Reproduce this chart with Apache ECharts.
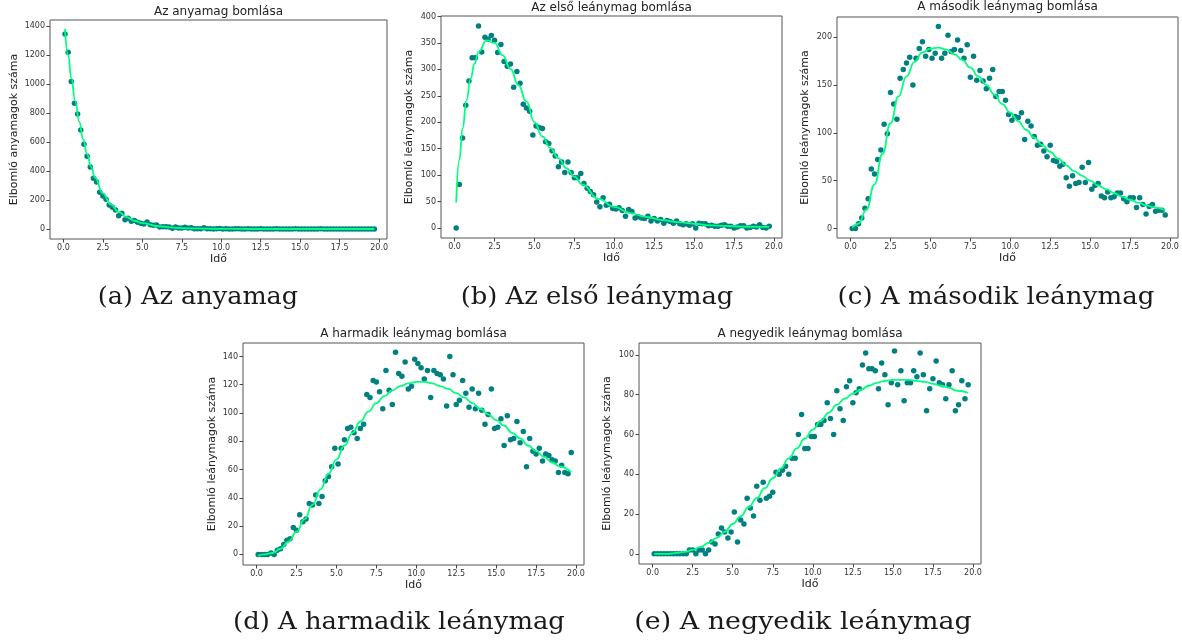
<!DOCTYPE html>
<html>
<head>
<meta charset="utf-8">
<script src="https://cdn.jsdelivr.net/npm/echarts@6/dist/echarts.min.js"></script>
<style>
  html, body { margin: 0; padding: 0; background: #fff; }
  #decay_charts { width: 1182px; height: 644px; }
</style>
</head>
<body>
<div id="decay_charts"></div>
<script>
// mérési időpontok
const times = [0.1, 0.3, 0.5, 0.7, 0.9, 1.1, 1.3, 1.5, 1.7, 1.9,
  2.1, 2.3, 2.5, 2.7, 2.9, 3.1, 3.3, 3.5, 3.7, 3.9,
  4.1, 4.3, 4.5, 4.7, 4.9, 5.1, 5.3, 5.5, 5.7, 5.9,
  6.1, 6.3, 6.5, 6.7, 6.9, 7.1, 7.3, 7.5, 7.7, 7.9,
  8.1, 8.3, 8.5, 8.7, 8.9, 9.1, 9.3, 9.5, 9.7, 9.9,
  10.1, 10.3, 10.5, 10.7, 10.9, 11.1, 11.3, 11.5, 11.7, 11.9,
  12.1, 12.3, 12.5, 12.7, 12.9, 13.1, 13.3, 13.5, 13.7, 13.9,
  14.1, 14.3, 14.5, 14.7, 14.9, 15.1, 15.3, 15.5, 15.7, 15.9,
  16.1, 16.3, 16.5, 16.7, 16.9, 17.1, 17.3, 17.5, 17.7, 17.9,
  18.1, 18.3, 18.5, 18.7, 18.9, 19.1, 19.3, 19.5, 19.7];

// szimulált bomlások (pontok)
const motherCounts = [1345, 1219, 1017, 867, 793, 683, 584, 501, 428, 350,
  324, 253, 228, 205, 166, 150, 131, 92, 108, 64,
  74, 53, 58, 46, 39, 35, 48, 30, 25, 28,
  14, 16, 16, 14, 5, 14, 7, 7, 12, 7,
  9, 2, 2, 2, 9, 2, 1, 0, 1, 3,
  0, 1, 0, 0, 2, 1, 0, 0, 1, 0,
  0, 0, 1, 0, 0, 0, 0, 1, 0, 0,
  0, 0, 0, 1, 0, 0, 0, 0, 0, 0,
  0, 1, 0, 0, 0, 0, 0, 0, 0, 0,
  0, 0, 0, 0, 0, 0, 0, 0, 0];
const daughter1Counts = [0, 82, 170, 232, 278, 322, 322, 382, 333, 361,
  357, 364, 355, 332, 347, 315, 306, 310, 266, 296,
  274, 234, 227, 221, 176, 193, 190, 188, 163, 160,
  146, 136, 116, 125, 105, 125, 105, 95, 95, 103,
  84, 75, 69, 63, 49, 40, 57, 43, 45, 37,
  36, 38, 33, 22, 35, 31, 19, 21, 19, 18,
  22, 13, 18, 13, 16, 9, 14, 12, 9, 13,
  8, 6, 8, 5, 8, 0, 9, 8, 8, 4,
  5, 3, 3, 5, 6, 3, 3, 0, 2, 4,
  4, 0, 1, 3, 2, 6, 1, 0, 3];
const daughter2Counts = [0, 0, 5, 11, 21, 31, 62, 57, 72, 82,
  109, 99, 142, 130, 114, 157, 166, 173, 179, 150,
  178, 188, 195, 180, 187, 178, 183, 211, 178, 183,
  202, 185, 187, 197, 186, 178, 192, 158, 180, 155,
  165, 154, 146, 157, 166, 138, 143, 143, 134, 119,
  113, 117, 116, 121, 93, 112, 107, 96, 87, 88,
  81, 75, 87, 71, 70, 65, 67, 53, 44, 55,
  47, 48, 64, 48, 69, 41, 45, 47, 34, 32,
  38, 32, 33, 37, 37, 31, 28, 32, 32, 22,
  32, 25, 15, 23, 25, 18, 19, 19, 14];
const daughter3Counts = [0, 0, 0, 0, 1, 0, 3, 4, 7, 10,
  11, 19, 17, 28, 23, 25, 36, 35, 42, 36,
  41, 52, 55, 62, 75, 64, 75, 81, 89, 90,
  86, 82, 89, 92, 113, 111, 123, 122, 115, 103,
  130, 116, 106, 143, 128, 126, 136, 117, 119, 138,
  135, 132, 124, 130, 111, 130, 128, 127, 124, 105,
  140, 127, 106, 109, 123, 114, 104, 117, 103, 114,
  102, 92, 99, 117, 89, 90, 96, 77, 98, 81,
  82, 94, 79, 87, 62, 82, 73, 71, 75, 66,
  71, 70, 67, 66, 58, 63, 58, 57, 72];
const daughter4Counts = [0, 0, 0, 0, 0, 0, 0, 0, 0, 0,
  0, 2, 2, 0, 2, 2, 0, 2, 6, 5,
  10, 13, 11, 8, 11, 21, 6, 17, 15, 28,
  23, 19, 34, 27, 36, 28, 29, 31, 41, 40,
  42, 44, 40, 48, 48, 60, 70, 53, 53, 59,
  59, 65, 65, 67, 76, 68, 60, 82, 73, 67,
  84, 87, 76, 81, 83, 95, 101, 93, 93, 92,
  83, 96, 90, 75, 86, 102, 85, 92, 77, 86,
  86, 92, 89, 101, 90, 72, 83, 88, 97, 86,
  85, 78, 85, 92, 72, 75, 87, 78, 85];

// illesztett görbék
const motherFitTimes = [0.1, 0.3, 0.5, 0.75, 1.0, 1.25, 1.5, 1.75, 2.0, 2.5, 3.0, 3.5, 4.0, 4.5, 5.0, 6.0, 7.0, 8.0, 10.0, 12.0, 15.0, 19.7];
const motherFit = [1380, 1200, 1040, 880, 740, 620, 515, 430, 355, 245, 170, 118, 82, 57, 40, 19, 9, 4, 1, 0, 0, 0];
const daughter1FitTimes = [0.1, 0.3, 0.5, 0.75, 1.0, 1.25, 1.5, 2.0, 2.5, 3.0, 3.5, 4.0, 4.5, 5.0, 5.5, 6.0, 6.5, 7.0, 7.5, 8.0, 9.0, 10, 11, 12, 13, 14, 15, 16, 17, 18, 19, 19.7];
const daughter1Fit = [48, 129, 188, 242, 282, 311, 333, 355, 350, 327, 301, 270, 239, 200, 173, 151, 132, 113, 97, 82, 55, 40, 28, 21, 15, 11, 8, 5, 4, 2.5, 2, 2];
const fitTimes = [0.1, 0.5, 1, 1.5, 2, 2.5, 3, 3.5, 4, 4.5, 5, 5.5, 6, 6.5, 7, 7.5, 8, 8.5, 9, 9.5,
  10, 10.5, 11, 11.5, 12, 12.5, 13, 13.5, 14, 14.5, 15, 15.5, 16, 16.5, 17, 17.5, 18, 18.5, 19, 19.7];
const daughter2Fit = [1, 5, 20, 46, 78, 110, 138, 159, 174, 184, 188, 189, 187, 182, 176, 168, 159, 150, 140, 130,
  121, 112, 103, 95, 87, 80, 73, 66, 60, 55, 50, 45, 41, 37, 33, 30, 27, 24, 22, 19];
const daughter3Fit = [-1, 0, 1, 4, 9, 16, 25, 35, 46, 57, 67, 77, 86, 94, 101, 107, 112, 116, 119, 121,
  122, 122, 121, 119, 117, 114, 111, 107, 103, 99, 95, 91, 86, 82, 77, 73, 69, 65, 62, 58];
const daughter4Fit = [0, 0, 0, 0.5, 1, 2, 3.5, 5.5, 8, 11, 15, 19, 23.5, 28, 33, 38, 43, 48, 53, 58,
  62.5, 67, 71, 75, 78, 80.5, 82.5, 84.5, 86, 87, 87.5, 87.5, 87.5, 87, 86.5, 85.5, 84.5, 83.5, 82, 81];

// tengelyfeliratok
const xTicks = [0, 2.5, 5, 7.5, 10, 12.5, 15, 17.5, 20];
const motherTicks = [0, 200, 400, 600, 800, 1000, 1200, 1400];
const daughter1Ticks = [0, 50, 100, 150, 200, 250, 300, 350, 400];
const daughter2Ticks = [0, 50, 100, 150, 200];
const daughter3Ticks = [0, 20, 40, 60, 80, 100, 120, 140];
const daughter4Ticks = [0, 20, 40, 60, 80, 100];

const titles = ['Az anyamag bomlása', 'Az első leánymag bomlása', 'A második leánymag bomlása',
  'A harmadik leánymag bomlása', 'A negyedik leánymag bomlása'];
const yNames = ['Elbomló anyamagok száma', 'Elbomló leánymagok száma', 'Elbomló leánymagok száma',
  'Elbomló leánymagok száma', 'Elbomló leánymagok száma'];
const captions = ['(a) Az anyamag', '(b) Az első leánymag', '(c) A második leánymag',
  '(d) A harmadik leánymag', '(e) A negyedik leánymag'];

const panels = [
  { box: [50, 20, 337, 219], y: [-69, 1441], ticks: motherTicks, pts: motherCounts, fx: motherFitTimes, fy: motherFit, gap: 30, titleY: 12, capX: 198, capY: 298, capScale: 1.064 },
  { box: [441, 16, 341, 222], y: [-19, 401], ticks: daughter1Ticks, pts: daughter1Counts, fx: daughter1FitTimes, fy: daughter1Fit, gap: 26, titleY: 8, capX: 597, capY: 298, capScale: 1.077 },
  { box: [837, 17, 341, 221], y: [-10, 221], ticks: daughter2Ticks, pts: daughter2Counts, fx: fitTimes, fy: daughter2Fit, gap: 26, titleY: 7, capX: 996, capY: 298, capScale: 1.087 },
  { box: [243, 343, 341, 222], y: [-7.5, 149.5], ticks: daughter3Ticks, pts: daughter3Counts, fx: fitTimes, fy: daughter3Fit, gap: 25, titleY: 334, capX: 399, capY: 623, capScale: 1.078 },
  { box: [639, 343, 342, 221], y: [-5.1, 106], ticks: daughter4Ticks, pts: daughter4Counts, fx: fitTimes, fy: daughter4Fit, gap: 26, titleY: 334, capX: 803, capY: 623, capScale: 1.12 }
];

const tickFont = { fontFamily: 'DejaVu Sans', fontSize: 8, color: '#333' };

function buildOption () {
  const grid = [], xAxis = [], yAxis = [], series = [], graphic = [];
  panels.forEach((p, i) => {
    const [left, top, width, height] = p.box;
    grid.push({
      left, top, width, height,
      show: true,
      borderColor: '#555',
      borderWidth: 1,
      backgroundColor: 'transparent'
    });
    xAxis.push({
      type: 'value',
      gridIndex: i,
      position: 'bottom',
      min: -0.85,
      max: 20.5,
      name: 'Idő',
      nameLocation: 'middle',
      nameGap: 15,
      nameTextStyle: { fontFamily: 'DejaVu Sans', fontSize: 11, color: '#222' },
      axisLine: { show: false, onZero: false },
      splitLine: { show: false },
      axisTick: { show: true, length: 3.5, lineStyle: { color: '#444' }, customValues: xTicks },
      axisLabel: Object.assign({ margin: 5, customValues: xTicks, formatter: v => v.toFixed(1) }, tickFont)
    });
    yAxis.push({
      type: 'value',
      gridIndex: i,
      position: 'left',
      min: p.y[0],
      max: p.y[1],
      name: yNames[i],
      nameLocation: 'middle',
      nameGap: p.gap,
      nameTextStyle: { fontFamily: 'DejaVu Sans', fontSize: 11, color: '#222' },
      axisLine: { show: false, onZero: false },
      splitLine: { show: false },
      axisTick: { show: true, length: 3.5, lineStyle: { color: '#444' }, customValues: p.ticks },
      axisLabel: Object.assign({ margin: 5, customValues: p.ticks, formatter: v => String(v) }, tickFont)
    });
    series.push({
      type: 'scatter',
      xAxisIndex: i,
      yAxisIndex: i,
      symbolSize: 5.5,
      itemStyle: { color: '#008080', opacity: 1 },
      data: times.map((t, k) => [t, p.pts[k]]),
      z: 2
    });
    series.push({
      type: 'line',
      xAxisIndex: i,
      yAxisIndex: i,
      smooth: true,
      smoothMonotone: 'x',
      showSymbol: false,
      lineStyle: { color: '#00FF7F', width: 1.8 },
      data: p.fx.map((t, k) => [t, p.fy[k]]),
      z: 3
    });
    graphic.push({
      type: 'text',
      x: left + width / 2,
      y: p.titleY,
      style: {
        text: titles[i],
        fontFamily: 'DejaVu Sans',
        fontSize: 12,
        fill: '#222',
        textAlign: 'center',
        textVerticalAlign: 'middle'
      }
    });
    graphic.push({
      type: 'text',
      x: p.capX,
      y: p.capY,
      scaleX: p.capScale,
      style: {
        text: captions[i],
        fontFamily: 'DejaVu Serif',
        fontSize: 24,
        fill: '#1a1a1a',
        textAlign: 'center',
        textVerticalAlign: 'middle'
      }
    });
  });
  return { animation: false, grid, xAxis, yAxis, series, graphic };
}

const decayChart = echarts.init(document.getElementById('decay_charts'));
decayChart.setOption(buildOption());
</script>
</body>
</html>
